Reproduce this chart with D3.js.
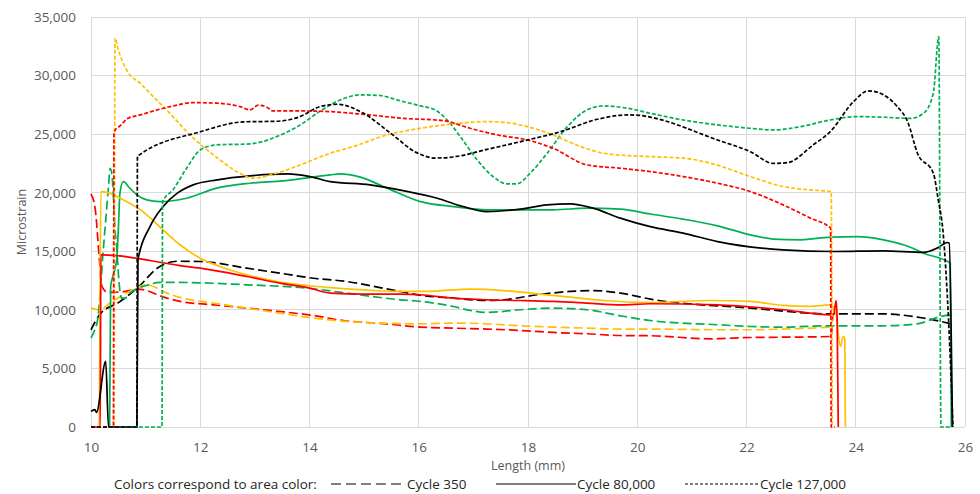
<!DOCTYPE html>
<html>
<head>
<meta charset="utf-8">
<script src="https://cdn.jsdelivr.net/npm/d3@7"></script>
<style>
  html, body { margin: 0; padding: 0; background: #ffffff; }
  svg { display: block; }
  text { font-family: "Open Sans", "Liberation Sans", sans-serif; }
</style>
</head>
<body>
<svg id="chart" width="980" height="494"></svg>
<script>
// Strain along the specimen length, three load cycles for each of four areas.
// Points are [length (mm), microstrain].
const xTicks = [10, 12, 14, 16, 18, 20, 22, 24, 26];
const yTicks = [0, 5000, 10000, 15000, 20000, 25000, 30000, 35000];

const areaColors = { black: "#000000", red: "#ff0000", orange: "#ffc000", green: "#00b050" };
const cycles = ["Cycle 350", "Cycle 80,000", "Cycle 127,000"];

// Cycle 350
const blackCycle350 = [[10.00,8300],[10.16,9600],[10.53,10700],[10.90,12100],[11.21,13550],[11.58,14150],[12.00,14130],[12.85,13560],[13.46,13130],[14.07,12700],[14.68,12420],[15.29,11900],[15.66,11570],[16.03,11250],[16.63,11000],[17.25,10800],[17.55,10860],[18.17,11290],[18.77,11570],[19.19,11650],[19.69,11430],[20.24,10920],[22.07,10150],[23.53,9660],[24.51,9660],[25.13,9380],[25.42,9150],[25.75,8800]];
const redCycle350 = [[10.00,19900],[10.08,18500],[10.15,14500],[10.20,12000],[10.30,11500],[10.60,11550],[10.86,11770],[11.39,11000],[11.63,10720],[12.24,10430],[12.85,10150],[13.46,9860],[14.07,9520],[14.68,9050],[15.29,8850],[16.03,8530],[16.63,8440],[17.25,8360],[17.86,8240],[18.46,8070],[19.08,7960],[19.69,7810],[20.24,7790],[21.34,7530],[22.07,7640],[22.99,7680],[23.55,7730],[23.58,9700]];
const orangeCycle350 = [[10.00,10150],[10.16,10010],[10.35,10580],[10.65,11430],[11.02,12140],[11.39,11430],[11.63,11060],[12.24,10580],[12.85,10150],[13.46,9720],[14.07,9300],[14.68,9010],[15.29,8870],[16.03,8810],[16.63,8870],[17.25,8810],[17.86,8640],[18.46,8530],[19.08,8440],[19.69,8360],[20.24,8360],[21.47,8300],[22.07,8300],[22.67,8360],[23.53,8530],[23.59,8600]];
const greenCycle350 = [[10.00,7600],[10.07,8300],[10.13,9430],[10.18,12280],[10.22,14840],[10.24,15980],[10.27,17680],[10.32,20520],[10.35,22090],[10.38,21670],[10.41,19670],[10.44,16830],[10.47,15410],[10.50,13140],[10.56,11000],[10.62,11000],[10.71,11430],[10.86,11860],[10.95,11990],[11.26,12340],[11.63,12340],[12.85,12140],[13.95,11860],[14.68,11430],[15.66,10860],[16.03,10720],[16.63,10290],[16.94,9950],[17.25,9780],[17.86,10010],[18.46,10150],[19.08,10010],[19.69,9490],[20.24,9090],[21.47,8730],[22.07,8580],[22.67,8530],[23.53,8640],[24.51,8640],[25.13,8810],[25.55,9430],[25.73,9580]];

// Cycle 80,000
const blackCycle80k = [[10.00,1330],[10.07,1480],[10.10,1250],[10.27,5600],[10.32,0],[10.84,0],[10.86,14300],[11.08,17100],[11.32,18820],[11.58,19960],[11.87,20670],[12.31,21100],[12.91,21440],[13.59,21600],[14.01,21380],[14.38,20950],[15.11,20670],[15.71,20180],[16.34,19530],[16.81,18820],[17.25,18390],[17.86,18600],[18.35,18960],[18.77,19050],[19.19,18680],[19.69,17830],[20.24,17100],[20.84,16550],[21.47,15830],[22.67,15120],[23.59,14980],[24.51,15040],[25.24,14900],[25.49,15270],[25.68,15750],[25.71,15700],[25.77,0]];
const redCycle80k = [[10.00,0],[10.17,0],[10.18,14700],[10.22,14700],[11.63,13780],[12.00,13560],[12.85,12850],[13.46,12280],[14.00,11860],[14.38,11430],[14.98,11340],[15.66,11340],[16.03,11290],[16.63,11000],[17.25,10860],[17.86,10800],[18.46,10720],[19.08,10580],[19.69,10430],[20.24,10520],[21.47,10430],[22.67,10010],[23.53,9580],[23.60,9700],[23.64,10800],[23.66,9200],[23.68,0]];
const orangeCycle80k = [[10.00,0],[10.15,0],[10.18,20100],[10.20,20100],[10.65,19240],[10.95,18390],[11.32,16830],[11.63,15560],[12.00,14410],[12.36,13700],[12.85,12990],[13.46,12370],[13.95,12080],[14.38,11900],[14.98,11710],[15.66,11570],[16.03,11570],[16.63,11710],[16.94,11770],[17.55,11650],[18.17,11370],[18.77,11090],[19.38,10800],[20.24,10630],[21.34,10800],[22.07,10720],[22.67,10380],[23.17,10290],[23.53,10430],[23.63,9860],[23.72,6880],[23.77,7730],[23.80,7500],[23.81,0]];
const greenCycle80k = [[10.34,0],[10.36,12000],[10.40,12850],[10.47,14270],[10.50,16830],[10.53,19960],[10.59,20950],[10.71,20390],[10.84,19820],[11.02,19390],[11.26,19240],[11.75,19530],[12.30,20390],[12.91,20810],[13.52,21010],[14.38,21520],[14.56,21610],[14.93,21330],[15.42,20390],[16.03,19240],[16.63,18820],[17.25,18540],[17.86,18540],[18.46,18540],[19.08,18680],[19.69,18600],[20.24,18180],[20.84,17740],[21.47,17170],[22.07,16400],[22.49,16040],[22.99,15980],[23.53,16210],[24.03,16260],[24.51,15980],[25.00,15350],[25.24,14840],[25.73,13990],[25.75,0]];

// Cycle 127,000
const blackCycle127k = [[10.00,0],[10.84,0],[10.85,23100],[12.00,25200],[12.80,26050],[13.40,26100],[13.83,26500],[14.19,27350],[14.51,27550],[14.98,26800],[15.48,25100],[15.97,23400],[16.30,22960],[16.63,23050],[17.25,23700],[17.99,24500],[18.59,25200],[19.27,26270],[19.82,26640],[20.05,26600],[20.24,26450],[21.47,24500],[22.07,23500],[22.49,22500],[22.75,22570],[23.22,24080],[23.53,25200],[23.96,27780],[24.23,28700],[24.51,28350],[24.76,27350],[24.95,26070],[25.13,23370],[25.42,21670],[25.51,19400],[25.60,16560],[25.70,9000],[25.78,0]];
const redCycle127k = [[10.00,0],[10.41,0],[10.42,25200],[10.53,25700],[10.68,26350],[10.90,26640],[11.21,27070],[11.50,27400],[11.87,27690],[12.31,27640],[12.73,27350],[12.91,27070],[13.06,27470],[13.22,27300],[13.33,26980],[13.83,26980],[14.38,26920],[14.93,26720],[15.71,26350],[16.45,26150],[16.94,25500],[17.44,24930],[17.99,24500],[18.46,23790],[19.08,22370],[19.69,22090],[20.24,21800],[20.84,21380],[21.47,20810],[22.07,20100],[22.67,18960],[23.17,17830],[23.54,16970],[23.55,0],[23.62,0]];
const orangeCycle127k = [[10.00,0],[10.42,0],[10.44,33200],[10.50,32200],[10.65,30480],[10.90,29340],[11.20,27920],[11.50,26500],[11.75,25220],[12.05,23940],[12.36,22800],[12.67,21800],[12.97,21240],[13.40,21670],[13.83,22370],[14.38,23370],[14.80,23940],[15.42,24930],[16.03,25500],[16.63,25870],[17.25,26070],[17.62,25980],[17.99,25640],[18.46,24930],[18.96,23940],[19.38,23370],[19.82,23170],[20.24,23080],[20.84,22950],[21.34,22520],[22.07,21380],[22.67,20520],[23.17,20240],[23.55,20100],[23.57,0]];
const greenCycle127k = [[10.00,0],[11.30,0],[11.31,19240],[11.50,20240],[11.75,22090],[12.00,23650],[12.30,24080],[12.91,24170],[13.40,24790],[13.83,25790],[14.19,26950],[14.56,27920],[14.93,28350],[15.29,28300],[15.60,27920],[16.03,27410],[16.30,27070],[16.52,26210],[16.76,24790],[17.07,22800],[17.36,21380],[17.62,20760],[17.80,20760],[18.04,21670],[18.35,23370],[18.72,25640],[19.08,27070],[19.38,27410],[19.82,27210],[20.24,26780],[20.84,26210],[21.47,25790],[22.07,25500],[22.49,25360],[22.99,25640],[23.53,26210],[24.03,26500],[24.51,26440],[25.00,26350],[25.24,26780],[25.42,28490],[25.52,33320],[25.56,0],[25.73,0]];

const dashFor = { "Cycle 350": "9,4", "Cycle 80,000": null, "Cycle 127,000": "4,2" };

const series = [
  { area: "black",  cycle: "Cycle 350",     values: blackCycle350 },
  { area: "red",    cycle: "Cycle 350",     values: redCycle350 },
  { area: "orange", cycle: "Cycle 350",     values: orangeCycle350 },
  { area: "green",  cycle: "Cycle 350",     values: greenCycle350 },
  { area: "green",  cycle: "Cycle 80,000",  values: greenCycle80k },
  { area: "orange", cycle: "Cycle 80,000",  values: orangeCycle80k },
  { area: "red",    cycle: "Cycle 80,000",  values: redCycle80k },
  { area: "black",  cycle: "Cycle 80,000",  values: blackCycle80k },
  { area: "green",  cycle: "Cycle 127,000", values: greenCycle127k },
  { area: "orange", cycle: "Cycle 127,000", values: orangeCycle127k },
  { area: "red",    cycle: "Cycle 127,000", values: redCycle127k },
  { area: "black",  cycle: "Cycle 127,000", values: blackCycle127k }
];

const svg = d3.select("#chart");
const margin = { left: 91, right: 15, top: 17, bottom: 67 };
const W = 980, H = 494;

const x = d3.scaleLinear().domain([10, 26]).range([margin.left, W - margin.right]);
const y = d3.scaleLinear().domain([0, 35000]).range([H - margin.bottom, margin.top]);

// gridlines
const grid = svg.append("g");
grid.selectAll("line.h").data(yTicks).join("line")
  .attr("x1", x(10)).attr("x2", x(26))
  .attr("y1", d => y(d)).attr("y2", d => y(d))
  .attr("stroke", "#d9d9d9").attr("stroke-width", 1).attr("shape-rendering", "crispEdges");
grid.selectAll("line.v").data(xTicks).join("line")
  .attr("y1", y(0)).attr("y2", y(35000))
  .attr("x1", d => x(d)).attr("x2", d => x(d))
  .attr("stroke", "#d9d9d9").attr("stroke-width", 1).attr("shape-rendering", "crispEdges");

// axes (labels only; the grid carries the lines)
const yAxis = svg.append("g")
  .attr("transform", `translate(${margin.left},0)`)
  .call(d3.axisLeft(y).tickValues(yTicks).tickFormat(d3.format(",")).tickSize(0).tickPadding(15));
const xAxis = svg.append("g")
  .attr("transform", `translate(0,${y(0)})`)
  .call(d3.axisBottom(x).tickValues(xTicks).tickFormat(d3.format("d")).tickSize(0).tickPadding(15));
[yAxis, xAxis].forEach(a => {
  a.select(".domain").remove();
  a.selectAll("text").attr("fill", "#595959").style("font-size", "13.5px")
    .style("font-family", "'Open Sans', 'Liberation Sans', sans-serif");
});

svg.append("text")
  .attr("transform", `translate(26,${(y(0) + y(35000)) / 2}) rotate(-90)`)
  .attr("text-anchor", "middle").attr("fill", "#595959").style("font-size", "12.5px")
  .text("Microstrain");
svg.append("text")
  .attr("x", (x(10) + x(26)) / 2).attr("y", 470)
  .attr("text-anchor", "middle").attr("fill", "#595959").style("font-size", "12.5px")
  .text("Length (mm)");

// strain lines
const line = d3.line().x(d => x(d[0])).y(d => y(d[1])).curve(d3.curveMonotoneX);
svg.append("g").selectAll("path").data(series).join("path")
  .attr("d", d => line(d.values))
  .attr("fill", "none")
  .attr("stroke", d => areaColors[d.area])
  .attr("stroke-width", 1.7)
  .attr("stroke-linejoin", "round")
  .attr("stroke-dasharray", d => dashFor[d.cycle]);

// legend
const legend = svg.append("g").style("font-size", "13.5px").attr("fill", "#262626");
const ly = 484;
legend.append("text").attr("x", 114).attr("y", ly + 5).text("Colors correspond to area color:");
const legendItems = [
  { cycle: cycles[0], x1: 331, x2: 406, tx: 407 },
  { cycle: cycles[1], x1: 496, x2: 576, tx: 577 },
  { cycle: cycles[2], x1: 685, x2: 758, tx: 760 }
];
legendItems.forEach(it => {
  legend.append("line").attr("x1", it.x1).attr("x2", it.x2).attr("y1", ly).attr("y2", ly)
    .attr("stroke", "#000").attr("stroke-width", 1.2)
    .attr("stroke-dasharray", it.cycle === "Cycle 350" ? "10,5" : (it.cycle === "Cycle 127,000" ? "3,2" : null));
  legend.append("text").attr("x", it.tx).attr("y", ly + 5).text(it.cycle);
});
</script>
</body>
</html>
